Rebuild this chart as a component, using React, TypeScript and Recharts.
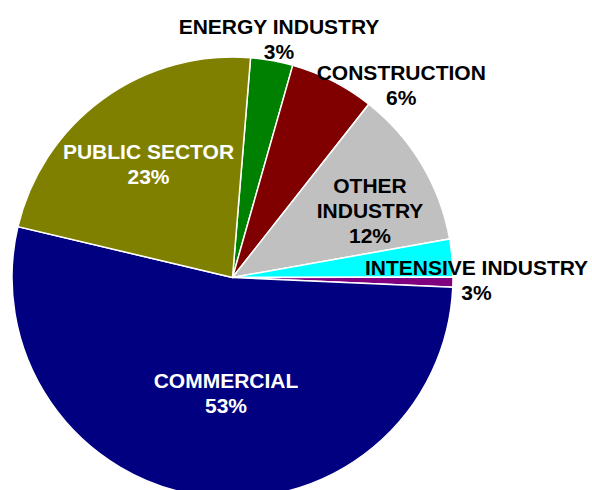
import React from 'react';
import { PieChart, Pie, Cell } from 'recharts';

const SECTORS = ['ENERGY INDUSTRY', 'CONSTRUCTION', 'OTHER INDUSTRY', 'INTENSIVE INDUSTRY', 'OTHER', 'COMMERCIAL', 'PUBLIC SECTOR'];
const SHARES = [3.1, 6.2, 11.6, 2.75, 0.75, 53.0, 22.6];
const SHOWN = ['3%', '6%', '12%', '3%', '', '53%', '23%'];

const COLORS = ['#008000', '#800000', '#C0C0C0', '#00FFFF', '#800080', '#000080', '#808000'];
const TEXT_COLORS = ['#000', '#000', '#000', '#000', '#000', '#fff', '#fff'];

// label block centres, relative to pie centre
const LABEL_OFFSETS: [number, number][] = [
  [46.5, -239.5],
  [168.8, -193.5],
  [137.5, -68],
  [244, 2],
  [0, 0],
  [-6.5, 114.5],
  [-84, -113.7],
];

const LINE_H = 25;

const data = SECTORS.map((name, i) => ({ name, value: SHARES[i], shown: SHOWN[i] }));

const renderLabel = (props: any) => {
  const { cx, cy, index } = props;
  const d = data[index];
  if (!d.shown) return null;
  const lines = d.name === 'OTHER INDUSTRY' ? ['OTHER', 'INDUSTRY', d.shown] : [d.name, d.shown];
  const [ox, oy] = LABEL_OFFSETS[index];
  const x = cx + ox;
  const top = cy + oy - ((lines.length - 1) * LINE_H) / 2;
  return (
    <text
      key={index}
      x={x}
      y={top}
      textAnchor="middle"
      dominantBaseline="central"
      fill={TEXT_COLORS[index]}
      fontFamily="'Liberation Sans', Arial, sans-serif"
      fontWeight="bold"
      fontSize={21}
    >
      {lines.map((l, k) => (
        <tspan key={k} x={x} y={top + k * LINE_H}>
          {l}
        </tspan>
      ))}
    </text>
  );
};

const App: React.FC = () => {
  return (
    <>
      <style>{`body{margin:0;overflow:hidden}`}</style>
      <PieChart width={592} height={490} margin={{ top: 0, right: 0, bottom: 0, left: 0 }}>
        <Pie
          data={data}
          dataKey="value"
          nameKey="name"
          cx={232.5}
          cy={277.5}
          outerRadius={220.5}
          startAngle={85.3}
          endAngle={-274.7}
          stroke="#fff"
          strokeWidth={1.5}
          label={renderLabel}
          labelLine={false}
          isAnimationActive={false}
        >
          {data.map((_, i) => (
            <Cell key={i} fill={COLORS[i]} />
          ))}
        </Pie>
      </PieChart>
    </>
  );
};

export default App;
